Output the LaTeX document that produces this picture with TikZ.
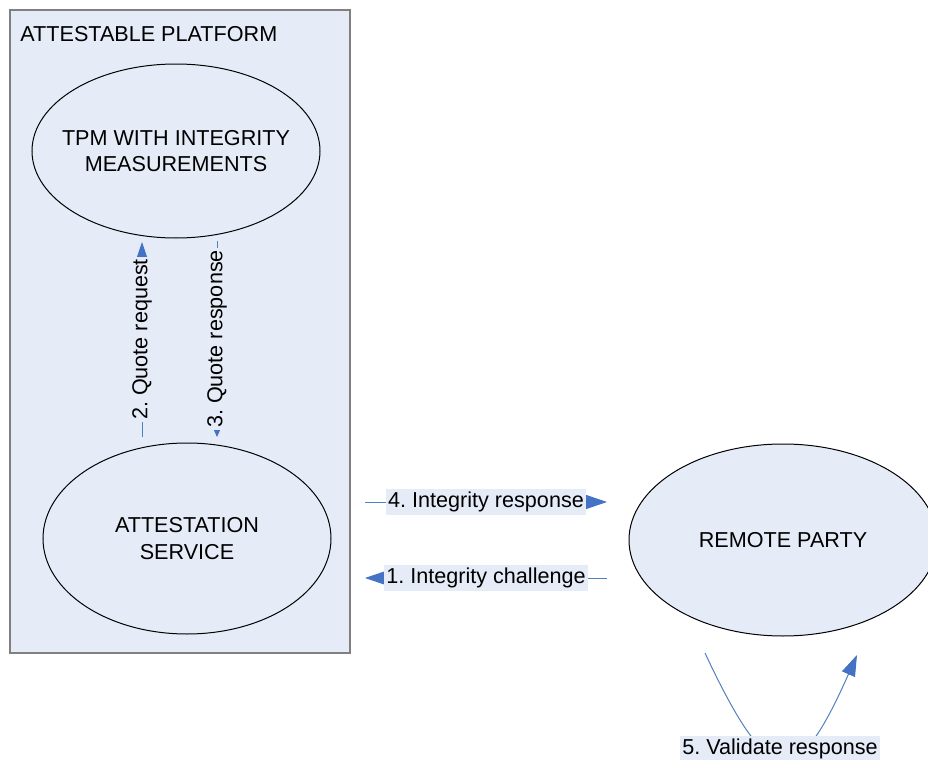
\documentclass[tikz,border=0pt]{standalone}
\usepackage{fontspec}
\setmainfont{Liberation Sans}
\usetikzlibrary{shapes.geometric,arrows.meta}
\definecolor{paleblue}{HTML}{E6ECF7}
\definecolor{linkblue}{HTML}{4F81BD}
\definecolor{tipblue}{HTML}{4472C4}
\frenchspacing

\begin{document}
\begin{tikzpicture}[x=0.5pt,y=-0.5pt,
  font=\fontsize{10.8}{13.3}\selectfont,
  blob/.style={ellipse,draw=black,line width=0.5pt,fill=paleblue,inner sep=0pt},
  txt/.style={align=center,inner sep=0pt},
  flow/.style={draw=linkblue,line width=0.5pt},
  bigtip/.style={-{Triangle[length=10.5pt,width=7pt,color=tipblue]}},
  smalltip/.style={-{Triangle[length=3.5pt,width=3pt,color=tipblue]}},
  lbl/.style={fill=paleblue,text=black,inner xsep=1pt,inner ysep=1.5pt}]
\useasboundingbox (0,0) rectangle (928,760);
\clip (0,0) rectangle (928,760);
\draw[fill=paleblue,draw=gray,line width=0.6pt] (10,10) rectangle (350,653);
\node[anchor=base west,inner sep=0pt] (platform) at (20,41) {ATTESTABLE PLATFORM};
\node[blob,minimum width=144pt,minimum height=87pt] (tpm) at (176,151) {};
\node[txt] (tpmtext) at (tpm) {TPM WITH INTEGRITY\\MEASUREMENTS};
\node[blob,minimum width=144pt,minimum height=95.5pt] (attest) at (187,538.5) {};
\node[txt] (attesttext) at (attest) {ATTESTATION\\SERVICE};
\node[blob,minimum width=154pt,minimum height=96pt] (remote) at (783,540) {};
\node[txt] (remotetext) at (remote) {REMOTE PARTY};
\coordinate (reqfrom) at (142,437);
\coordinate (reqto) at (142,242);
\coordinate (respfrom) at (217,241);
\coordinate (respto) at (217,437);
\coordinate (irfrom) at (365,502);
\coordinate (irto) at (607,502);
\coordinate (icfrom) at (607,578);
\coordinate (icto) at (365,578);
\coordinate (valfrom) at (705,653);
\coordinate (valto) at (857,655);
\draw[flow,bigtip] (reqfrom) -- node[lbl,rotate=90] (req) {2. Quote request} (reqto);
\draw[flow,smalltip] (respfrom) -- node[lbl,rotate=90] (resp) {3. Quote response} (respto);
\draw[flow,bigtip] (irfrom) -- node[lbl] (ir) {4. Integrity response} (irto);
\draw[flow,bigtip] (icfrom) -- node[lbl] (ic) {1. Integrity challenge} (icto);
\draw[flow,bigtip] (valfrom) .. controls (771,794) and (797,790) .. (valto);
\node[lbl] (validate) at (780,749) {5. Validate response};
\end{tikzpicture}
\end{document}
